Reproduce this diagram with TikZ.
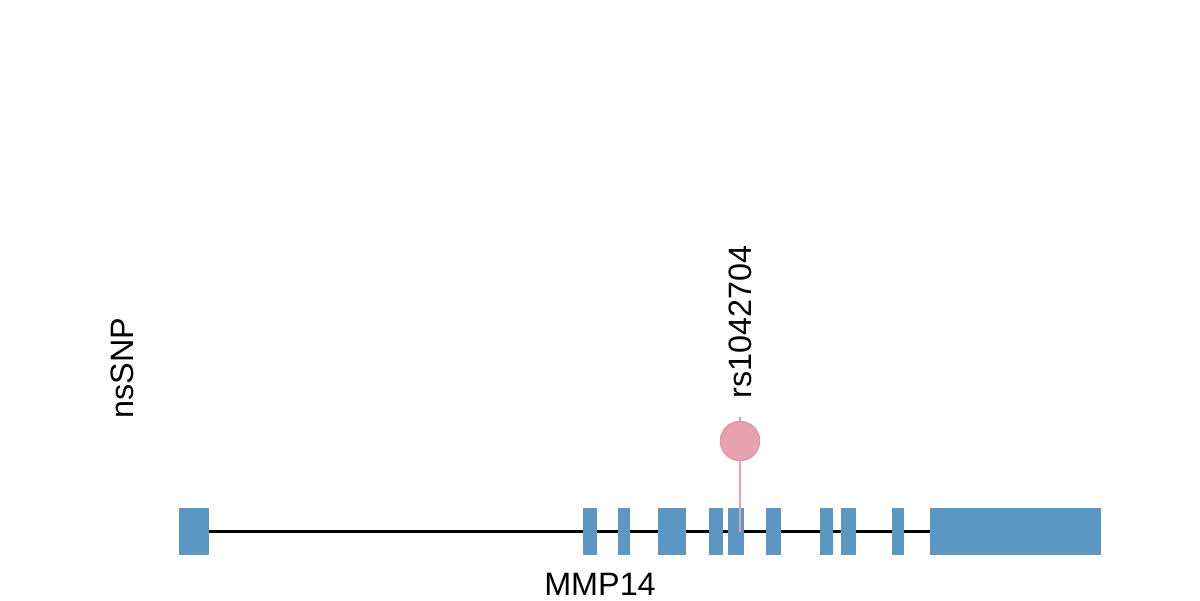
\documentclass[tikz,border=0pt]{standalone}
\usepackage{fontspec}
\setmainfont{Liberation Sans}
\usetikzlibrary{backgrounds}
\definecolor{exonblue}{RGB}{91,151,194}
\definecolor{snppink}{RGB}{232,161,176}
\definecolor{snpedge}{RGB}{226,148,165}

\begin{document}
\begin{tikzpicture}[x=0.01cm,y=-0.01cm,font=\fontsize{9.2}{11}\selectfont,
  exon/.style={rectangle,fill=exonblue,inner sep=0,minimum height=0.47cm},
  intron/.style={line width=0.6pt,black},
  stem/.style={line width=0.6pt,snppink},
  lolli/.style={circle,fill=snppink,draw=snpedge,line width=0.4pt,inner sep=0,minimum size=0.39cm},
  lbl/.style={inner sep=0}]
\useasboundingbox (0,0) rectangle (1200,600);
% exons of the gene, start/end in pixels
\foreach \a/\b [count=\i] in {179/209,583/597,618/630,658/686,709/723,728/744,
    766/781,820/833,841/856,892/904,930/1101}{
  \pgfmathsetmacro\w{(\b-\a)*0.2845}
  \node[exon,minimum width=\w pt] (e\i) at ({(\a+\b)/2},531.5) {};
}
\begin{pgfonlayer}{background}
  \draw[intron] (e1.center) -- (e11.center);
\end{pgfonlayer}
% the one nsSNP
\coordinate (base) at (740,532);
\node[lolli] (snp) at (740,441) {};
\draw[stem] (base) -- (snp);
\draw[gray!60,line width=0.4pt] (snp.north) -- ++(0,-4);
\node[lbl,rotate=90,anchor=west] (rsid) at (740,399) {rs1042704};
\node[lbl,rotate=90] (track) at (122,368) {nsSNP};
\node[lbl] (gene) at (600,584) {MMP14};
\end{tikzpicture}
\end{document}
